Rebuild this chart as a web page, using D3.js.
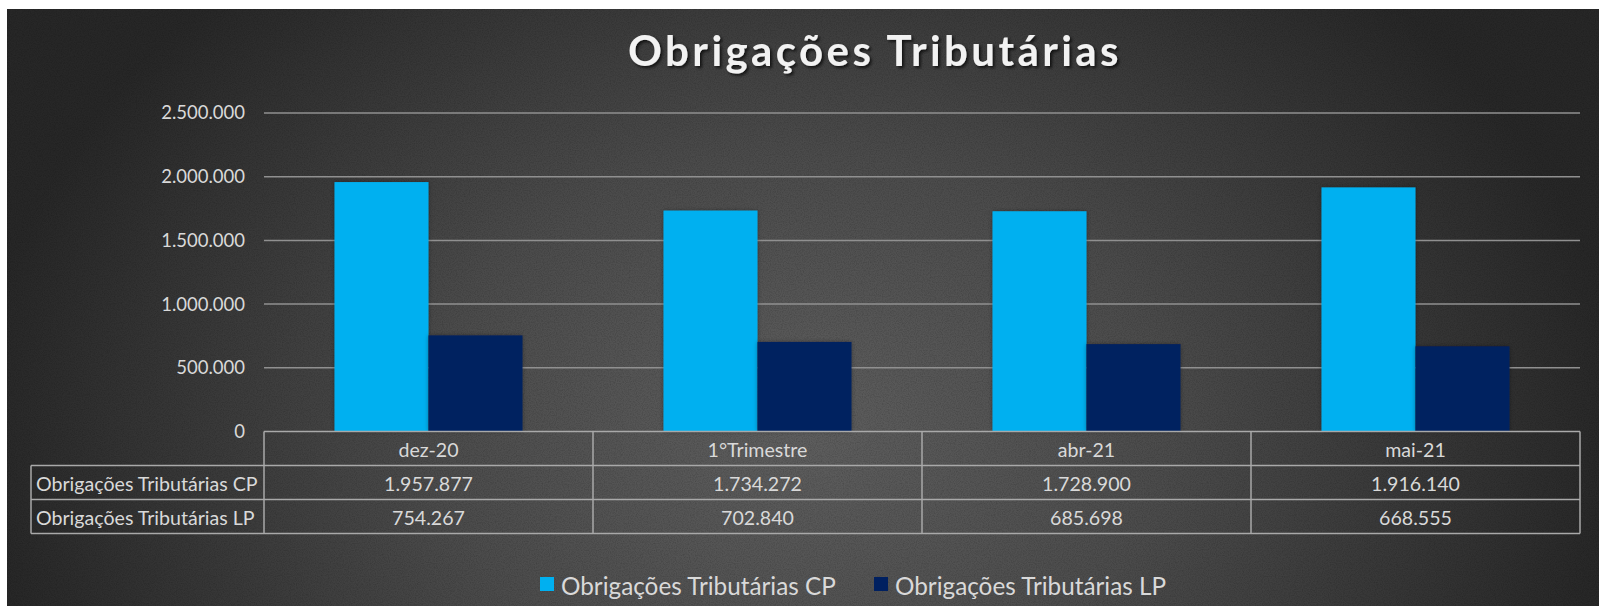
<!DOCTYPE html>
<html>
<head>
<meta charset="utf-8">
<script src="https://cdn.jsdelivr.net/npm/d3@7"></script>
<style>
  html, body { margin: 0; padding: 0; background: #ffffff; }
  svg { display: block; }
  text { font-family: Lato, "Open Sans", sans-serif; }
</style>
</head>
<body>
<svg id="chart" width="1599" height="606"></svg>
<script>
// ---- data ----
const categories = ["dez-20", "1°Trimestre", "abr-21", "mai-21"];
const seriesNames = ["Obrigações Tributárias CP", "Obrigações Tributárias LP"];
const cpValues = [1957877, 1734272, 1728900, 1916140];
const lpValues = [754267, 702840, 685698, 668555];
const yTicks = [0, 500000, 1000000, 1500000, 2000000, 2500000];
const seriesColors = ["#00b0f0", "#002060"];
const titleText = "Obrigações Tributárias";

const seriesValues = [cpValues, lpValues];

// ---- layout ----
const W = 1599, H = 606;
const plot = { left: 264, right: 1580, top: 113, bottom: 431.5 };
const rowH = 34;
const labelColLeft = 31;

const svg = d3.select("#chart");
const defs = svg.append("defs");

// background gradient
const grad = defs.append("radialGradient")
  .attr("id", "bg").attr("gradientUnits", "userSpaceOnUse")
  .attr("cx", 800).attr("cy", 430).attr("r", 820)
  .attr("gradientTransform", "translate(800,430) scale(1,0.75) translate(-800,-430)");
grad.append("stop").attr("offset", "0%").attr("stop-color", "#5e5e5e");
grad.append("stop").attr("offset", "45%").attr("stop-color", "#4b4b4b");
grad.append("stop").attr("offset", "100%").attr("stop-color", "#272727");

// texture
const noise = defs.append("filter").attr("id", "noise").attr("x", 0).attr("y", 0).attr("width", "100%").attr("height", "100%");
noise.append("feTurbulence").attr("type", "fractalNoise").attr("baseFrequency", 0.85).attr("numOctaves", 2).attr("seed", 3).attr("result", "t");
noise.append("feColorMatrix").attr("type", "matrix")
  .attr("values", "0 0 0 0 0  0 0 0 0 0  0 0 0 0 0  0 0 0 -1.2 0.75");

const shadow = defs.append("filter").attr("id", "tshadow").attr("x", "-10%").attr("y", "-30%").attr("width", "120%").attr("height", "160%");
shadow.append("feDropShadow").attr("dx", 2).attr("dy", 2).attr("stdDeviation", 1.8).attr("flood-color", "#000").attr("flood-opacity", 0.7);

const bshadow = defs.append("filter").attr("id", "bshadow").attr("x", "-10%").attr("y", "-10%").attr("width", "120%").attr("height", "120%");
bshadow.append("feDropShadow").attr("dx", 0).attr("dy", 0).attr("stdDeviation", 2).attr("flood-color", "#000").attr("flood-opacity", 0.35);

svg.append("rect").attr("x", 7).attr("y", 9).attr("width", W - 7).attr("height", H - 9).attr("fill", "url(#bg)");
svg.append("rect").attr("x", 7).attr("y", 9).attr("width", W - 7).attr("height", H - 9)
  .attr("fill", "#000").attr("filter", "url(#noise)").attr("opacity", 0.25);

// ---- scales ----
const x0 = d3.scaleBand().domain(categories).range([plot.left, plot.right]).padding(0);
const x1 = d3.scaleBand().domain(seriesNames).range([0, x0.bandwidth()]).paddingInner(0).paddingOuter(0.75);
const y = d3.scaleLinear().domain([0, 2500000]).range([plot.bottom, plot.top]);

const fmtLocale = d3.formatLocale({ decimal: ",", thousands: ".", grouping: [3], currency: ["R$", ""] });
const fmt = fmtLocale.format(",d");

// title
svg.append("text")
  .attr("x", 875).attr("y", 66)
  .attr("text-anchor", "middle")
  .attr("fill", "#f2f2f2")
  .attr("font-size", 42).attr("font-weight", 700)
  .attr("letter-spacing", 3.4)
  .attr("filter", "url(#tshadow)")
  .text(titleText);

// gridlines
svg.append("g").selectAll("line")
  .data(yTicks.filter(d => d > 0))
  .join("line")
  .attr("x1", plot.left).attr("x2", plot.right)
  .attr("y1", d => y(d)).attr("y2", d => y(d))
  .attr("stroke", "#909090").attr("stroke-width", 1.5);

// y axis labels
const yAxis = svg.append("g")
  .attr("transform", `translate(${plot.left},0)`)
  .call(d3.axisLeft(y).tickValues(yTicks).tickFormat(fmt).tickSize(0).tickPadding(19));
yAxis.select(".domain").remove();
yAxis.selectAll("text")
  .attr("fill", "#d9d9d9").attr("font-size", 18.5)
  .attr("font-family", "Lato, sans-serif");

// bars
const groups = svg.append("g").selectAll("g")
  .data(categories)
  .join("g")
  .attr("transform", d => `translate(${x0(d)},0)`);

groups.selectAll("rect")
  .data((d, i) => seriesNames.map((s, j) => ({ s, v: seriesValues[j][i], c: seriesColors[j] })))
  .join("rect")
  .attr("x", d => x1(d.s))
  .attr("width", x1.bandwidth())
  .attr("y", d => y(d.v))
  .attr("height", d => y(0) - y(d.v))
  .attr("fill", d => d.c)
  .attr("filter", "url(#bshadow)");

// ---- data table ----
const tbl = svg.append("g");
const borderColor = "#a9a9a9";
const r0 = plot.bottom, r1 = r0 + rowH, r2 = r1 + rowH, r3 = r2 + rowH;

tbl.append("line").attr("x1", plot.left).attr("x2", plot.right).attr("y1", r0).attr("y2", r0);
[r1, r2, r3].forEach(yy => {
  tbl.append("line").attr("x1", labelColLeft).attr("x2", plot.right).attr("y1", yy).attr("y2", yy);
});
tbl.append("line").attr("x1", labelColLeft).attr("x2", labelColLeft).attr("y1", r1).attr("y2", r3);
categories.forEach(c => {
  tbl.append("line").attr("x1", x0(c)).attr("x2", x0(c)).attr("y1", r0).attr("y2", r3);
});
tbl.append("line").attr("x1", plot.right).attr("x2", plot.right).attr("y1", r0).attr("y2", r3);
tbl.selectAll("line").attr("stroke", borderColor).attr("stroke-width", 1.5);

const cellText = (sel) => sel.attr("fill", "#d9d9d9").attr("font-size", 19.6).attr("dominant-baseline", "central");

tbl.selectAll("text.hdr").data(categories).join("text")
  .attr("class", "hdr")
  .attr("x", d => x0(d) + x0.bandwidth() / 2)
  .attr("y", (r0 + r1) / 2 + 1)
  .attr("text-anchor", "middle")
  .call(cellText)
  .text(d => d);

seriesNames.forEach((s, j) => {
  const top = j === 0 ? r1 : r2;
  tbl.append("text")
    .attr("x", labelColLeft + 5).attr("y", top + rowH / 2 + 1)
    .call(cellText)
    .text(s);
  tbl.selectAll("text.v" + j).data(categories).join("text")
    .attr("class", "v" + j)
    .attr("x", d => x0(d) + x0.bandwidth() / 2)
    .attr("y", top + rowH / 2 + 1)
    .attr("text-anchor", "middle")
    .call(cellText)
    .text((d, i) => fmt(seriesValues[j][i]));
});

// ---- legend ----
const legendX = [540, 874];
const leg = svg.append("g");
seriesNames.forEach((s, j) => {
  leg.append("rect").attr("x", legendX[j]).attr("y", 577).attr("width", 14).attr("height", 14).attr("fill", seriesColors[j]);
  leg.append("text").attr("x", legendX[j] + 21).attr("y", 585)
    .attr("dominant-baseline", "central")
    .attr("fill", "#d9d9d9").attr("font-size", 24.3)
    .text(s);
});
</script>
</body>
</html>
